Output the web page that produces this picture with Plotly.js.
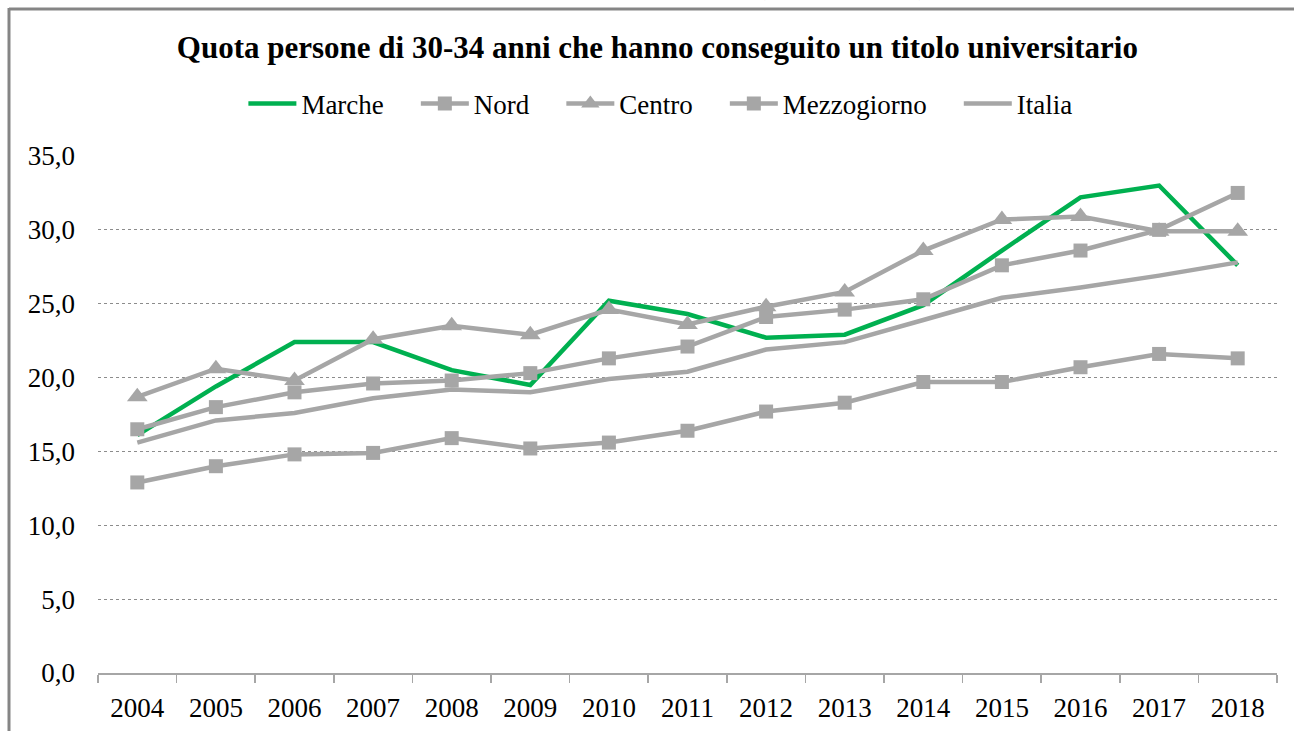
<!DOCTYPE html>
<html>
<head>
<meta charset="utf-8">
<script src="https://cdn.plot.ly/plotly-3.0.1.min.js"></script>
<style>
html,body{margin:0;padding:0;background:#fff;}
#chart{width:1294px;height:731px;}
</style>
</head>
<body>
<div id="chart"></div>
<script>
var years = ["2004","2005","2006","2007","2008","2009","2010","2011","2012","2013","2014","2015","2016","2017","2018"];
var seriesNames = ["Marche","Nord","Centro","Mezzogiorno","Italia"];
var marche      = [16.1,19.4,22.4,22.4,20.5,19.5,25.2,24.3,22.7,22.9,24.9,28.6,32.2,33.0,27.6];
var nord        = [16.5,18.0,19.0,19.6,19.8,20.3,21.3,22.1,24.1,24.6,25.3,27.6,28.6,30.0,32.5];
var centro      = [18.7,20.6,19.8,22.6,23.5,22.9,24.6,23.6,24.8,25.8,28.6,30.7,30.9,29.9,29.9];
var mezzogiorno = [12.9,14.0,14.8,14.9,15.9,15.2,15.6,16.4,17.7,18.3,19.7,19.7,20.7,21.6,21.3];
var italia      = [15.6,17.1,17.6,18.6,19.2,19.0,19.9,20.4,21.9,22.4,23.9,25.4,26.1,26.9,27.8];
var yTicks = [0,5,10,15,20,25,30,35];
var yTickLabels = ["0,0","5,0","10,0","15,0","20,0","25,0","30,0","35,0"];

var GREEN = "#00B050", GRAY = "#A6A6A6";
var FONT = "Liberation Serif, Times New Roman, serif";
var PAD = "\u00a0\u00a0\u00a0\u00a0";

var traces = [
  {x: years, y: marche, name: seriesNames[0] + PAD, type: "scatter", mode: "lines",
   line: {color: GREEN, width: 4.5}},
  {x: years, y: nord, name: seriesNames[1] + PAD, type: "scatter", mode: "lines+markers",
   line: {color: GRAY, width: 4.5}, marker: {symbol: "square", size: 14, color: GRAY}},
  {x: years, y: centro, name: seriesNames[2] + PAD, type: "scatter", mode: "lines+markers",
   line: {color: GRAY, width: 4.5}, marker: {symbol: "triangle-up", size: 18, color: GRAY}},
  {x: years, y: mezzogiorno, name: seriesNames[3] + PAD, type: "scatter", mode: "lines+markers",
   line: {color: GRAY, width: 4.5}, marker: {symbol: "square", size: 14, color: GRAY}},
  {x: years, y: italia, name: seriesNames[4], type: "scatter", mode: "lines",
   line: {color: GRAY, width: 4.5}}
];

var layout = {
  width: 1294, height: 731,
  margin: {l: 98, r: 17, t: 156, b: 58},
  paper_bgcolor: "#fff", plot_bgcolor: "#fff",
  font: {family: FONT, size: 27, color: "#000"},
  showlegend: true,
  title: {text: "<b>Quota persone di 30-34 anni che hanno conseguito un titolo universitario</b>",
          font: {family: FONT, size: 31, color: "#000"},
          x: 0.508, xref: "container", xanchor: "center",
          y: 1 - 47/731, yref: "container", yanchor: "middle"},
  legend: {orientation: "h", x: 0.477, xanchor: "center", y: 1.1006, yanchor: "middle",
           font: {family: FONT, size: 27, color: "#000"}, tracegroupgap: 0, itemwidth: 48,
           bgcolor: "rgba(0,0,0,0)"},
  xaxis: {type: "category", range: [-0.5, 14.5], showgrid: false, zeroline: false,
          showline: true, linecolor: "#A6A6A6", linewidth: 1.5,
          ticks: "outside", tickson: "boundaries", ticklen: 8, tickcolor: "#A6A6A6", tickwidth: 1.5,
          ticklabelstandoff: 10,
          tickfont: {family: FONT, size: 27, color: "#000"}, fixedrange: true},
  yaxis: {range: [0, 35], tickvals: yTicks, ticktext: yTickLabels, showgrid: true,
          gridcolor: "#8c8c8c", griddash: "dot", gridwidth: 1, zeroline: false,
          showline: false, ticks: "", ticklabelstandoff: 22,
          tickfont: {family: FONT, size: 27, color: "#000"}, fixedrange: true},
  shapes: [
    {type: "line", xref: "paper", yref: "paper", x0: (9 - 98)/1179, x1: 1.2, y0: (673 - 9)/517, y1: (673 - 9)/517,
     line: {color: "#858585", width: 3}},
    {type: "line", xref: "paper", yref: "paper", x0: (9 - 98)/1179, x1: (9 - 98)/1179, y0: (673 - 8)/517, y1: -0.2,
     line: {color: "#858585", width: 3}}
  ],
  annotations: [
    {text: "(", xref: "paper", yref: "paper", x: (761 - 98)/1179, y: (673 - 3)/517, xanchor: "center", yanchor: "bottom",
     showarrow: false, font: {family: FONT, size: 30, color: "#000"}},
    {text: ")", xref: "paper", yref: "paper", x: (923 - 98)/1179, y: (673 - 3)/517, xanchor: "center", yanchor: "bottom",
     showarrow: false, font: {family: FONT, size: 30, color: "#000"}}
  ]
};

Plotly.newPlot("chart", traces, layout, {displayModeBar: false, staticPlot: true});
</script>
</body>
</html>
